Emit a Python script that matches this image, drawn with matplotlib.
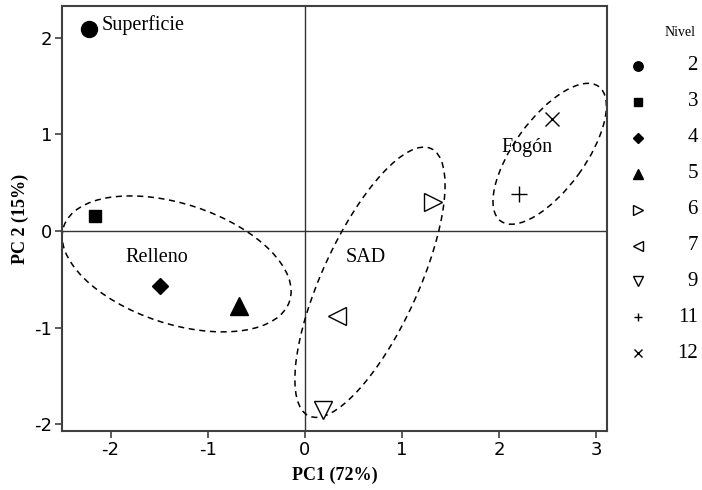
import matplotlib
matplotlib.use("Agg")
import matplotlib.pyplot as plt
from matplotlib.patches import Ellipse
from matplotlib import font_manager

# PCA scores per level (Nivel)
niveles = ["2", "3", "4", "5", "6", "7", "9", "11", "12"]
pc1 = [-2.22, -2.16, -1.49, -0.68, 1.32, 0.33, 0.185, 2.20, 2.54]
pc2 = [2.09, 0.155, -0.57, -0.78, 0.30, -0.88, -1.85, 0.38, 1.16]
markers = ["o", "s", "D", "^", ">", "<", "v", "+", "x"]
filled = [True, True, True, True, False, False, False, True, True]
msize = [11.5, 8.0, 8.6, 13.5, 13.5, 13.5, 13.0, 11.0, 10.0]
legend_msize = [6.8, 5.8, 5.6, 7.2, 7.0, 7.0, 7.0, 6.0, 6.0]

# group ellipses: center x, center y, width, height, angle
grupos = ["Relleno", "SAD", "Fogón"]
ell_cx = [-1.32, 0.67, 2.52]
ell_cy = [-0.34, -0.53, 0.80]
ell_w = [2.45, 3.04, 1.72]
ell_h = [1.24, 0.99, 0.73]
ell_ang = [-18.4, 65.6, 54.2]

# text labels
lab_text = ["Superficie", "Relleno", "SAD", "Fogón"]
lab_x = [-2.09, -1.52, 0.63, 2.29]
lab_y = [2.13, -0.27, -0.27, 0.86]
lab_ha = ["left", "center", "center", "center"]

avail = {f.name for f in font_manager.fontManager.ttflist}
tick_font = "Liberation Sans Narrow" if "Liberation Sans Narrow" in avail else "DejaVu Sans"
serif = "Liberation Serif"

W, H = 702, 490
fig = plt.figure(figsize=(W / 100, H / 100), dpi=100)
ax = fig.add_axes([62 / W, 1 - 431 / H, (607 - 62) / W, (431 - 6) / H])

ax.axhline(0, color="#333333", lw=1.0, zorder=1)
ax.axvline(0, color="#333333", lw=1.0, zorder=1)

for cx, cy, w, h, a in zip(ell_cx, ell_cy, ell_w, ell_h, ell_ang):
    ax.add_patch(Ellipse((cx, cy), w, h, angle=a, fill=False, ec="black",
                         lw=1.1, ls=(0, (4, 3)), zorder=2))

for x, y, m, f, s in zip(pc1, pc2, markers, filled, msize):
    ax.plot(x, y, marker=m, ms=s, color="black",
            mfc="black" if f else "white", mew=1.0, ls="none", zorder=3)

for t, x, y, ha in zip(lab_text, lab_x, lab_y, lab_ha):
    ax.text(x, y, t, ha=ha, va="center", family=serif, fontsize=14.5, zorder=4)

ax.set_xlim(-2.50, 3.11)
ax.set_ylim(-2.07, 2.33)
ax.set_xticks([-2, -1, 0, 1, 2, 3])
ax.set_yticks([-2, -1, 0, 1, 2])
ax.set_xticklabels(["-2", "-1", "0", "1", "2", "3"], family=tick_font, fontsize=13)
ax.set_yticklabels(["-2", "-1", "0", "1", "2"], family=tick_font, fontsize=13)
ax.tick_params(direction="out", length=5, width=1.2, color="#404040", pad=2)
for sp in ax.spines.values():
    sp.set_color("#404040")
    sp.set_linewidth(1.5)

ax.set_xlabel("PC1 (72%)", family=serif, fontweight="bold", fontsize=13, labelpad=6)
ax.set_ylabel("PC 2 (15%)", family=serif, fontweight="bold", fontsize=13, labelpad=4)

# legend drawn in its own pixel-space axes
lax = fig.add_axes([0, 0, 1, 1], facecolor="none")
lax.set_xlim(0, W)
lax.set_ylim(H, 0)
lax.axis("off")
lax.text(696, 32, "Nivel", ha="right", va="center", family=serif, fontsize=10)
for i, (lvl, m, f, s) in enumerate(zip(niveles, markers, filled, legend_msize)):
    ry = 66 + 35.9 * i
    lax.plot(638, ry, marker=m, ms=s, color="black",
             mfc="black" if f else "white", mew=1.0, ls="none")
    lax.text(698, ry, lvl, ha="right", va="center", family=serif, fontsize=15)

fig.savefig("out.png", dpi=100)
